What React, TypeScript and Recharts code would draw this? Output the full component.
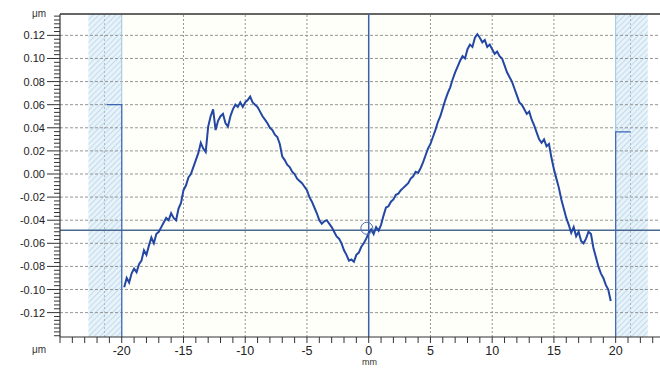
import React from 'react';
import { LineChart, Line, XAxis, YAxis, ReferenceLine, ReferenceArea, ReferenceDot } from 'recharts';

// measured profile: position (mm) and height (µm)
const positions = [
  -19.8, -19.6, -19.4, -19.2, -19.0, -18.8, -18.6, -18.4, -18.2, -18.0, -17.8, -17.6, -17.4, -17.2, -17.0,
  -16.8, -16.6, -16.4, -16.2, -16.0, -15.8, -15.6, -15.4, -15.2, -15.0, -14.8, -14.6, -14.4, -14.2, -14.0,
  -13.8, -13.6, -13.4, -13.2, -13.0, -12.8, -12.6, -12.4, -12.2, -12.0, -11.8, -11.6, -11.4, -11.2, -11.0,
  -10.8, -10.6, -10.4, -10.2, -10.0, -9.8, -9.6, -9.4, -9.2, -9.0, -8.8, -8.6, -8.4, -8.2, -8.0,
  -7.8, -7.6, -7.4, -7.2, -7.0, -6.8, -6.6, -6.4, -6.2, -6.0, -5.8, -5.6, -5.4, -5.2, -5.0,
  -4.8, -4.6, -4.4, -4.2, -4.0, -3.8, -3.6, -3.4, -3.2, -3.0, -2.8, -2.6, -2.4, -2.2, -2.0,
  -1.8, -1.6, -1.4, -1.2, -1.0, -0.8, -0.6, -0.4, -0.2, 0.0, 0.2, 0.4, 0.6, 0.8, 1.0,
  1.2, 1.4, 1.6, 1.8, 2.0, 2.2, 2.4, 2.6, 2.8, 3.0, 3.2, 3.4, 3.6, 3.8, 4.0,
  4.2, 4.4, 4.6, 4.8, 5.0, 5.2, 5.4, 5.6, 5.8, 6.0, 6.2, 6.4, 6.6, 6.8, 7.0,
  7.2, 7.4, 7.6, 7.8, 8.0, 8.2, 8.4, 8.6, 8.8, 9.0, 9.2, 9.4, 9.6, 9.8, 10.0,
  10.2, 10.4, 10.6, 10.8, 11.0, 11.2, 11.4, 11.6, 11.8, 12.0, 12.2, 12.4, 12.6, 12.8, 13.0,
  13.2, 13.4, 13.6, 13.8, 14.0, 14.2, 14.4, 14.6, 14.8, 15.0, 15.2, 15.4, 15.6, 15.8, 16.0,
  16.2, 16.4, 16.6, 16.8, 17.0, 17.2, 17.4, 17.6, 17.8, 18.0, 18.2, 18.4, 18.6, 18.8, 19.0,
  19.2, 19.4, 19.6,
];
const heights = [
  -0.098, -0.090, -0.094, -0.086, -0.082, -0.085, -0.078, -0.075, -0.066, -0.070, -0.062, -0.055, -0.060, -0.052, -0.050,
  -0.046, -0.042, -0.038, -0.040, -0.034, -0.038, -0.040, -0.030, -0.025, -0.014, -0.010, -0.003, 0.000, 0.006, 0.012,
  0.018, 0.027, 0.022, 0.019, 0.041, 0.050, 0.056, 0.038, 0.046, 0.050, 0.052, 0.044, 0.041, 0.050, 0.056,
  0.060, 0.058, 0.062, 0.058, 0.062, 0.064, 0.067, 0.062, 0.060, 0.058, 0.054, 0.050, 0.047, 0.044, 0.040,
  0.038, 0.034, 0.032, 0.026, 0.015, 0.012, 0.008, 0.006, 0.002, 0.000, -0.004, -0.006, -0.008, -0.011, -0.014,
  -0.020, -0.024, -0.029, -0.034, -0.040, -0.043, -0.041, -0.040, -0.043, -0.046, -0.050, -0.054, -0.056, -0.060, -0.066,
  -0.070, -0.075, -0.074, -0.076, -0.070, -0.068, -0.063, -0.060, -0.056, -0.051, -0.048, -0.052, -0.046, -0.049, -0.044,
  -0.036, -0.029, -0.028, -0.024, -0.022, -0.018, -0.017, -0.014, -0.012, -0.010, -0.008, -0.004, -0.002, 0.002, 0.001,
  0.005, 0.010, 0.016, 0.022, 0.026, 0.032, 0.038, 0.045, 0.050, 0.057, 0.064, 0.070, 0.075, 0.082, 0.088,
  0.093, 0.098, 0.102, 0.100, 0.108, 0.112, 0.110, 0.118, 0.121, 0.118, 0.114, 0.116, 0.110, 0.112, 0.108,
  0.104, 0.106, 0.102, 0.100, 0.094, 0.088, 0.084, 0.080, 0.074, 0.068, 0.062, 0.060, 0.056, 0.052, 0.054,
  0.047, 0.042, 0.036, 0.030, 0.027, 0.030, 0.024, 0.026, 0.014, 0.004, -0.004, -0.012, -0.022, -0.030, -0.038,
  -0.044, -0.051, -0.046, -0.054, -0.050, -0.058, -0.060, -0.056, -0.050, -0.052, -0.064, -0.072, -0.080, -0.086, -0.090,
  -0.096, -0.100, -0.110,
];

// cursor markers inside the excluded zones
const leftMarkerX = [-21.2, -20.0, -20.0];
const leftMarkerY = [0.06, 0.06, -0.1411];
const rightMarkerX = [21.2, 20.0, 20.0];
const rightMarkerY = [0.0365, 0.0365, -0.1411];

// excluded (hatched) zones and reference lines
const leftZone = [-22.7, -20.0];
const rightZone = [20.0, 22.6];
const zoneInnerLines = [-21.4, 21.2];
const referenceLevel = -0.0487;
const referencePos = 0;
const circleMarker = { x: -0.15, y: -0.047 };

// axes
const xDomain = [-25, 23.59];
const yDomain = [-0.1411, 0.1385];
const xMajorTicks = [-20, -15, -10, -5, 0, 5, 10, 15, 20];
const xGridTicks = [-15, -10, -5, 5, 10, 15];
const yMajorTicks = [-0.12, -0.10, -0.08, -0.06, -0.04, -0.02, 0.0, 0.02, 0.04, 0.06, 0.08, 0.10, 0.12];

const xAllTicks: number[] = [];
for (let i = -25; i <= 23; i++) xAllTicks.push(i);
const yAllTicks: number[] = [];
for (let i = -42; i <= 41; i++) yAllTicks.push(Number(((i * 0.02) / 6).toFixed(6)));

const profile = positions.map((x, i) => ({ x, y: heights[i] }));
const leftMarker = leftMarkerX.map((x, i) => ({ x, y: leftMarkerY[i] }));
const rightMarker = rightMarkerX.map((x, i) => ({ x, y: rightMarkerY[i] }));

const FONT = '"Liberation Sans", Arial, sans-serif';

const XTick = (props: any) => {
  const { x, y, payload } = props;
  const v = payload.value as number;
  const major = xMajorTicks.includes(v);
  return (
    <g>
      <line x1={x} x2={x} y1={y} y2={y + 6} stroke="#333" strokeWidth={1} />
      {major && (
        <text x={x} y={y + 18} textAnchor="middle" fontSize={12.5} fill="#222" fontFamily={FONT}>
          {v}
        </text>
      )}
    </g>
  );
};

const YTick = (props: any) => {
  const { x, y, payload } = props;
  const v = payload.value as number;
  const idx = Math.round((v * 6) / 0.02);
  const major = idx % 6 === 0 && Math.abs(v) <= 0.1201;
  return (
    <g>
      <line x1={x} x2={x - (major ? 13 : 6)} y1={y} y2={y} stroke="#333" strokeWidth={1} />
      {major && (
        <text x={x - 15} y={y + 4} textAnchor="end" fontSize={11} fill="#222" fontFamily={FONT}>
          {v.toFixed(2)}
        </text>
      )}
    </g>
  );
};

export default function App() {
  return (
    <div style={{ position: 'absolute', left: 0, top: 0, width: 660, height: 369, background: '#fff', fontFamily: FONT }}>
      <svg width={0} height={0} style={{ position: 'absolute' }}>
        <defs>
          <pattern id="hatch" width="4" height="4" patternUnits="userSpaceOnUse" patternTransform="rotate(45)">
            <rect width="4" height="4" fill="#e8f2f9" />
            <line x1="0" y1="0" x2="0" y2="4" stroke="#acd0e8" strokeWidth="1.3" />
          </pattern>
        </defs>
      </svg>
      <LineChart width={660} height={369} margin={{ top: 14, right: 0, bottom: 0, left: 0 }}>
        <XAxis
          type="number"
          dataKey="x"
          domain={xDomain}
          ticks={xAllTicks}
          interval={0}
          allowDataOverflow
          height={32}
          tickSize={0}
          tickMargin={0}
          tick={<XTick />}
          axisLine={{ stroke: '#333', strokeWidth: 1.2 }}
          tickLine={false}
        />
        <YAxis
          type="number"
          dataKey="y"
          domain={yDomain}
          ticks={yAllTicks}
          interval={0}
          allowDataOverflow
          width={60}
          tickSize={0}
          tickMargin={0}
          tick={<YTick />}
          axisLine={{ stroke: '#333', strokeWidth: 1.2 }}
          tickLine={false}
        />
        <ReferenceArea x1={-20} x2={20} y1={yDomain[0]} y2={yDomain[1]} fill="#fffffa" fillOpacity={1} stroke="none" />
        <ReferenceArea x1={leftZone[0]} x2={leftZone[1]} y1={yDomain[0]} y2={yDomain[1]} fill="url(#hatch)" fillOpacity={1} stroke="none" />
        <ReferenceArea x1={rightZone[0]} x2={rightZone[1]} y1={yDomain[0]} y2={yDomain[1]} fill="url(#hatch)" fillOpacity={1} stroke="none" />
        {yMajorTicks.map((v) => (
          <ReferenceLine key={'h' + v} y={v} stroke="#8a8a8a" strokeWidth={0.9} strokeDasharray="3 2" />
        ))}
        {xGridTicks.map((v) => (
          <ReferenceLine key={'v' + v} x={v} stroke="#8a8a8a" strokeWidth={0.9} strokeDasharray="2 2" />
        ))}
        {zoneInnerLines.map((v) => (
          <ReferenceLine key={'z' + v} x={v} stroke="#9fb7c8" strokeWidth={0.9} strokeDasharray="2 2" />
        ))}
        <ReferenceLine x={leftZone[1]} stroke="#9cc4e0" strokeWidth={1} />
        <ReferenceLine x={rightZone[0]} stroke="#9cc4e0" strokeWidth={1} />
        <ReferenceLine y={yDomain[1]} stroke="#333" strokeWidth={1.5} />
        <ReferenceLine y={referenceLevel} stroke="#4a6890" strokeWidth={1.5} />
        <ReferenceLine x={referencePos} stroke="#3a5ea8" strokeWidth={1.5} />
        <Line data={leftMarker} dataKey="y" stroke="#3d66b4" strokeWidth={1.2} dot={false} isAnimationActive={false} />
        <Line data={rightMarker} dataKey="y" stroke="#3d66b4" strokeWidth={1.2} dot={false} isAnimationActive={false} />
        <Line data={profile} dataKey="y" stroke="#2347a3" strokeWidth={2} dot={false} isAnimationActive={false} />
        <ReferenceDot x={circleMarker.x} y={circleMarker.y} r={6} fill="none" stroke="#4d6fb5" strokeWidth={1} />
      </LineChart>
      <div style={{ position: 'absolute', right: 614, top: 8, fontSize: 10, color: '#333', lineHeight: '12px' }}>μm</div>
      <div style={{ position: 'absolute', right: 614, top: 344, fontSize: 10, color: '#333', lineHeight: '12px' }}>μm</div>
      <div style={{ position: 'absolute', left: 362, top: 357, fontSize: 9, color: '#333', lineHeight: '11px' }}>mm</div>
    </div>
  );
}
